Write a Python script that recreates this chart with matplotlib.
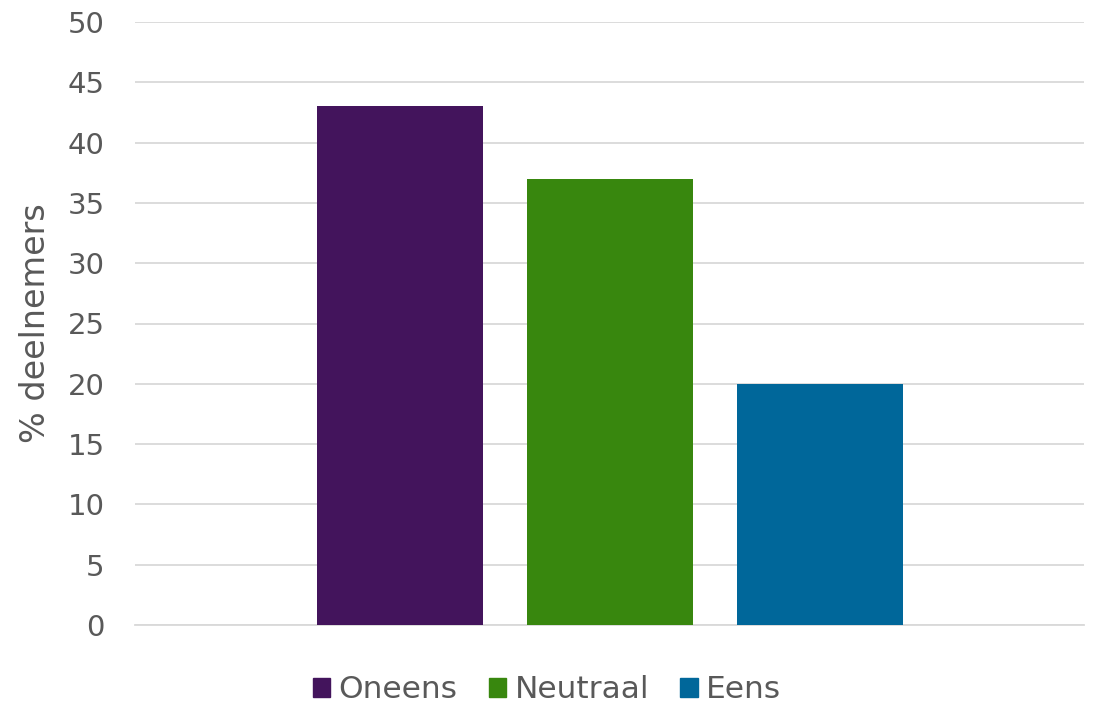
import numpy as np
import matplotlib.pyplot as plt
from matplotlib.patches import Patch

labels = ['Oneens', 'Neutraal', 'Eens']
values = [43, 37, 20]
colors = ['#43145C', '#38870E', '#00679A']
yticks = [0, 5, 10, 15, 20, 25, 30, 35, 40, 45, 50]

grey = '#595959'
plt.rcParams['font.family'] = ['DejaVu Sans']

fig = plt.figure(figsize=(10.94, 7.07), dpi=100)
ax = fig.add_axes([135 / 1094, 1 - 625 / 707, (1084 - 135) / 1094, (625 - 22) / 707])

x = np.arange(len(labels))
ax.bar(x, values, width=166 / 210, color=colors, zorder=3)

ax.set_ylim(0, 50)
ax.set_xlim(-1.262, 3.257)
ax.set_yticks(yticks)
ax.set_xticks([])
ax.grid(axis='y', color='#d9d9d9', linewidth=1.3, zorder=0)
for s in ['top', 'right', 'left']:
    ax.spines[s].set_visible(False)
ax.spines['bottom'].set_color('#d9d9d9')
ax.spines['bottom'].set_linewidth(1.3)
ax.tick_params(axis='y', length=0, labelsize=21, labelcolor=grey, pad=22)
ax.set_ylabel('% deelnemers', fontsize=24, color=grey)
ax.yaxis.set_label_coords(-(135 - 52) / 949, 0.5)

handles = [Patch(color=c, label=l) for c, l in zip(colors, labels)]
fig.legend(handles=handles, loc='center', bbox_to_anchor=(0.5, 1 - 690 / 707),
           ncol=3, frameon=False, fontsize=22.5, labelcolor=grey,
           handlelength=0.55, handleheight=0.55, handletextpad=0.28, columnspacing=1.0)

fig.savefig('out.png', dpi=100)
